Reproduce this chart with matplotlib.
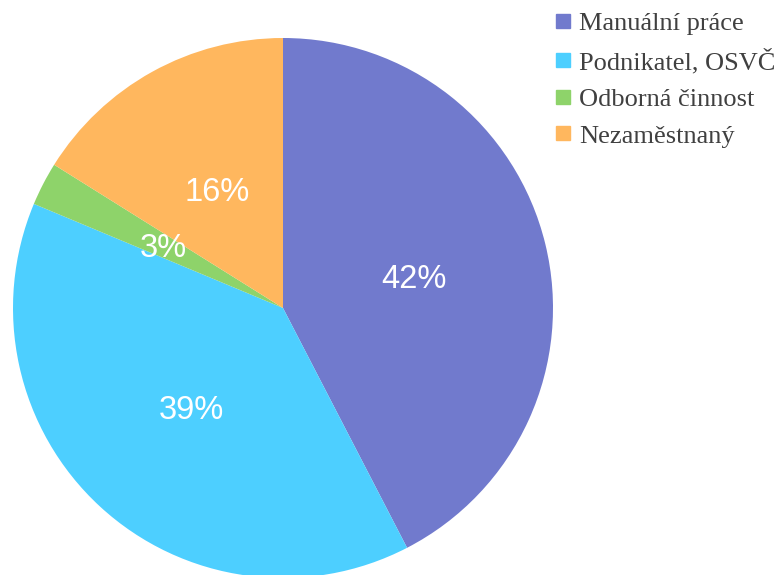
import matplotlib.pyplot as plt
from matplotlib.lines import Line2D

# Data
labels = ["Manuální práce", "Podnikatel, OSVČ", "Odborná činnost", "Nezaměstnaný"]
shares = [42.4, 38.9, 2.6, 16.1]
colors = ["#717ACD", "#4DCFFF", "#8ED36A", "#FFB75E"]

W, H = 780, 575
fig = plt.figure(figsize=(W / 100, H / 100), dpi=100)
ax = fig.add_axes([0, 0, 1, 1])

# center/radius in pixel units (axes spans the whole figure)
wedges, texts, autotexts = ax.pie(
    shares, colors=colors, startangle=90, counterclock=False,
    center=(283, H - 308), radius=270,
    autopct=lambda p: f"{p:.0f}%", pctdistance=0.5,
    textprops=dict(color="white", fontsize=23.5, family="Liberation Sans"),
    wedgeprops=dict(linewidth=0),
)
for t in autotexts:
    x, y = t.get_position()
    t.set_position((x, y - 3))
ax.set_xlim(0, W)
ax.set_ylim(0, H)
ax.set_aspect("equal")
ax.axis("off")

handles = [Line2D([], [], marker="s", linestyle="", markersize=9.5,
                  markerfacecolor=c, markeredgecolor=c) for c in colors]
leg = ax.legend(handles, labels, loc="upper left",
                bbox_to_anchor=(555 / W, 1 - 12 / H), frameon=False,
                prop=dict(family="Liberation Serif", size=19),
                handlelength=0.6, handletextpad=0.3, labelspacing=0.5,
                borderaxespad=0, borderpad=0)
for t in leg.get_texts():
    t.set_color("#404040")

fig.savefig("out.png", dpi=100)
